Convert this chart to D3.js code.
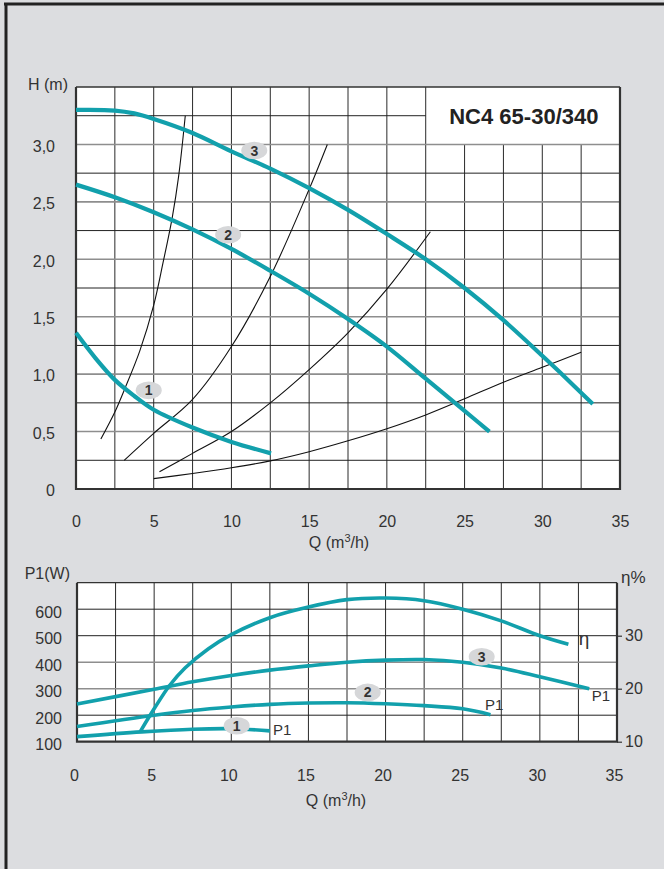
<!DOCTYPE html>
<html><head><meta charset="utf-8">
<script src="https://cdn.jsdelivr.net/npm/d3@7"></script>
<style>
body{margin:0;background:#dcdde0}
svg{display:block}
text{font-family:"Liberation Sans",Arial,sans-serif}
</style>
</head><body><svg id="c" width="664" height="869"></svg>
<script>
// ---------- data ----------
const title = "NC4 65-30/340";
const qTicks = [0,5,10,15,20,25,30,35];
const hTicks = [0,0.5,1.0,1.5,2.0,2.5,3.0];
const hTickLabels = ["0","0,5","1,0","1,5","2,0","2,5","3,0"];
const p1Ticks = [100,200,300,400,500,600];
const etaTicks = [10,20,30];

// pump curves H(Q), speeds 1..3
const q1 = [0,1.25,2.5,3.75,5,7.5,10,12.55];
const h1 = [1.36,1.14,0.95,0.81,0.69,0.535,0.41,0.31];
const q2 = [0,2.5,5,7.5,10,12.5,15,17.5,20,22.5,25,26.6];
const h2 = [2.65,2.54,2.41,2.26,2.09,1.90,1.70,1.48,1.24,0.96,0.68,0.50];
const q3 = [0,2.5,3.75,5,7.5,10,12.5,15,17.5,20,22.5,25,27.5,30,31.1,33.25];
const h3 = [3.30,3.295,3.27,3.222,3.10,2.94,2.79,2.62,2.43,2.22,2.00,1.75,1.47,1.16,1.02,0.74];

// system curves
const qSA = [1.6,2.5,3.1,4.1,5.0,5.6,6.2,6.6,7.03];
const hSA = [0.435,0.67,0.86,1.20,1.60,1.97,2.37,2.72,3.25];
const qSB = [3.1,5,7.5,10,12.5,15,16.17];
const hSB = [0.25,0.485,0.78,1.24,1.85,2.61,3.0];
const qSC = [5.37,7.5,10,12.5,15,17.5,20,22.8];
const hSC = [0.15,0.31,0.50,0.75,1.04,1.36,1.74,2.24];
const qSD = [5,7.5,10,12.5,15,17.5,20,22.5,25,27.5,30,32.5];
const hSD = [0.09,0.135,0.185,0.245,0.325,0.42,0.525,0.645,0.785,0.93,1.06,1.19];

// power P1(Q)
const qP1 = [0,4.2,7.5,10,12.5];
const pP1 = [119,137,147,149,141];
const qP2 = [0,5,7.5,10,12.5,15,17.5,20,22.5,25,26.8];
const pP2 = [157,200,218,231,241,246,247,243,236,224,202];
const qP3 = [0,5,7.5,10,12.5,15,17.5,20,22.5,25,27.5,30,33.2];
const pP3 = [242,298,326,350,370,386,400,408,410,400,378,345,300];

// efficiency eta(Q)
const qEta = [4.1,5,6,7,8.5,10,12.5,15,17.5,20,22.5,25,27.5,30,31.85];
const eta  = [11.9,16.2,20.6,23.9,27.5,30.2,33.4,35.4,36.8,37.1,36.6,35.0,32.8,30.0,28.4];

// ---------- drawing ----------
const teal = "#12a0ac";
const svg = d3.select("#c");
svg.append("rect").attr("width",664).attr("height",869).attr("fill","#dcdde0");
// scan border
svg.append("line").attr("x1",4).attr("x2",664).attr("y1",4).attr("y2",4).attr("stroke","#222").attr("stroke-width",3);
svg.append("line").attr("x1",6).attr("x2",6).attr("y1",3).attr("y2",869).attr("stroke","#222").attr("stroke-width",3);

const zip = (a,b)=>a.map((v,i)=>[v,b[i]]);
const curve = d3.curveCatmullRom.alpha(0.5);

// ===== top chart =====
const xT = d3.scaleLinear([0,35],[76,620]);
const yT = d3.scaleLinear([0,3.5],[489,87]);
const gT = svg.append("g");
gT.append("rect").attr("x",xT(0)).attr("y",yT(3.5)).attr("width",xT(35)-xT(0)).attr("height",yT(0)-yT(3.5)).attr("fill","#fff");
// grid
d3.range(2.5,35,2.5).forEach(q=>{
  gT.append("line").attr("x1",xT(q)).attr("x2",xT(q))
    .attr("y1",yT(0)).attr("y2", q>22.5+1e-6 ? yT(3.0) : yT(3.5))
    .attr("stroke","#2a2a2a").attr("stroke-width",1);
});
d3.range(0.25,3.5,0.25).forEach(h=>{
  const major = Math.abs(h*2-Math.round(h*2))<1e-6;
  gT.append("line").attr("y1",yT(h)).attr("y2",yT(h))
    .attr("x1",xT(0)).attr("x2", h>3.0+1e-6 ? xT(22.5) : xT(35))
    .attr("stroke", major? "#8e8e8e":"#222").attr("stroke-width", major?1.6:1);
});
// frame
gT.append("line").attr("x1",xT(0)).attr("x2",xT(35)).attr("y1",yT(3.5)).attr("y2",yT(3.5)).attr("stroke","#333").attr("stroke-width",1.3);
gT.append("path").attr("d",`M${xT(0)},${yT(3.5)}V${yT(0)}H${xT(35)}V${yT(3.5)}`).attr("fill","none").attr("stroke","#333").attr("stroke-width",2.2);
// title
gT.append("text").attr("x",(xT(22.5)+xT(35))/2+1).attr("y",yT(3.25)+8)
  .attr("text-anchor","middle").attr("font-size",22).attr("font-weight","bold").attr("fill","#222").text(title);

const lineT = d3.line().x(d=>xT(d[0])).y(d=>yT(d[1])).curve(curve);
[[qSA,hSA],[qSB,hSB],[qSC,hSC],[qSD,hSD]].forEach(([q,h])=>{
  gT.append("path").attr("d",lineT(zip(q,h))).attr("fill","none").attr("stroke","#111").attr("stroke-width",1.1);
});
[[q1,h1],[q2,h2],[q3,h3]].forEach(([q,h])=>{
  gT.append("path").attr("d",lineT(zip(q,h))).attr("fill","none").attr("stroke",teal).attr("stroke-width",4.2);
});

function badge(g,x,y,label){
  g.append("ellipse").attr("cx",x).attr("cy",y).attr("rx",13).attr("ry",8.8).attr("fill","#d6d7d9");
  g.append("text").attr("x",x).attr("y",y).attr("dy","0.36em").attr("text-anchor","middle")
    .attr("font-size",14).attr("font-weight","bold").attr("fill","#333").text(label);
}
badge(gT,xT(11.47),yT(2.947),"3");
badge(gT,xT(9.79),yT(2.214),"2");
badge(gT,xT(4.68),yT(0.859),"1");

// axes
const axTY = gT.append("g").attr("transform",`translate(${xT(0)},0)`)
  .call(d3.axisLeft(yT).tickValues(hTicks).tickFormat((d,i)=>hTickLabels[i]).tickSize(0).tickPadding(21));
const axTX = gT.append("g").attr("transform",`translate(0,${yT(0)})`)
  .call(d3.axisBottom(xT).tickValues(qTicks).tickFormat(d3.format("d")).tickSize(0).tickPadding(27));
[axTY,axTX].forEach(a=>{a.select(".domain").remove();a.selectAll("text").attr("font-size",16).attr("fill","#333").attr("font-family","Liberation Sans, Arial, sans-serif");});
axTY.selectAll("text").attr("dy","0.42em");
gT.append("text").attr("x",68).attr("y",90).attr("text-anchor","end").attr("font-size",16).attr("fill","#333").text("H (m)");
function qLabel(g,x,y){
  const t=g.append("text").attr("x",x).attr("y",y).attr("text-anchor","middle").attr("font-size",16).attr("fill","#333");
  t.append("tspan").text("Q (m");
  t.append("tspan").attr("font-size",11).attr("dy",-6).text("3");
  t.append("tspan").attr("dy",6).text("/h)");
}
qLabel(gT,339,548);

// ===== bottom chart =====
const xB = d3.scaleLinear([0,35],[77,617]);
const yP = d3.scaleLinear([100,700],[741.7,582.7]);
const yE = d3.scaleLinear([10,40],[741.7,582.7]);
const gB = svg.append("g");
gB.append("rect").attr("x",xB(0)).attr("y",yP(700)).attr("width",xB(35)-xB(0)).attr("height",yP(100)-yP(700)).attr("fill","#fff");
d3.range(2.5,35,2.5).forEach(q=>{
  gB.append("line").attr("x1",xB(q)).attr("x2",xB(q)).attr("y1",yP(100)).attr("y2",yP(700))
    .attr("stroke","#2a2a2a").attr("stroke-width",1);
});
d3.range(200,700,100).forEach(p=>{
  gB.append("line").attr("y1",yP(p)).attr("y2",yP(p)).attr("x1",xB(0)).attr("x2",xB(35))
    .attr("stroke", (p===300||p===400)? "#8e8e8e":"#222").attr("stroke-width",(p===300||p===400)?1.6:1);
});
gB.append("line").attr("x1",xB(0)).attr("x2",xB(35)).attr("y1",yP(700)).attr("y2",yP(700)).attr("stroke","#333").attr("stroke-width",1.3);
gB.append("path").attr("d",`M${xB(0)},${yP(700)}V${yP(100)}H${xB(35)}V${yP(700)}`).attr("fill","none").attr("stroke","#333").attr("stroke-width",2.2);

const lineP = d3.line().x(d=>xB(d[0])).y(d=>yP(d[1])).curve(curve);
const lineE = d3.line().x(d=>xB(d[0])).y(d=>yE(d[1])).curve(curve);
[[qP1,pP1],[qP2,pP2],[qP3,pP3]].forEach(([q,p])=>{
  gB.append("path").attr("d",lineP(zip(q,p))).attr("fill","none").attr("stroke",teal).attr("stroke-width",3.6);
});
gB.append("path").attr("d",lineE(zip(qEta,eta))).attr("fill","none").attr("stroke",teal).attr("stroke-width",3.6);

badge(gB,xB(10.35),yP(160.4),"1");
badge(gB,xB(18.84),yP(286),"2");
badge(gB,xB(26.23),yP(420.8),"3");

function lab(g,x,y,txt,size){
  g.append("text").attr("x",x).attr("y",y).attr("font-size",size).attr("fill","#333").text(txt);
}
lab(gB,xB(12.7),yP(125),"P1",15);
lab(gB,xB(26.44),yP(219.6),"P1",15);
lab(gB,xB(33.36),yP(253.6),"P1",15);
gB.append("text").attr("x",xB(32.86)).attr("y",yE(28.2)).attr("text-anchor","middle").attr("font-size",19).attr("fill","#333").text("η");

const axP = gB.append("g").attr("transform",`translate(${xB(0)},0)`)
  .call(d3.axisLeft(yP).tickValues(p1Ticks).tickFormat(d3.format("d")).tickSize(0).tickPadding(15));
const axE = gB.append("g").attr("transform",`translate(${xB(35)},0)`)
  .call(d3.axisRight(yE).tickValues(etaTicks).tickFormat(d3.format("d")).tickSize(5).tickPadding(3));
const axBX = gB.append("g").attr("transform",`translate(0,${yP(100)})`)
  .call(d3.axisBottom(xB).tickValues(qTicks).tickFormat(d3.format("d")).tickSize(0).tickPadding(28));
[axP,axE,axBX].forEach(a=>{a.select(".domain").remove();a.selectAll("text").attr("font-size",16).attr("fill","#333").attr("font-family","Liberation Sans, Arial, sans-serif");});
axE.selectAll("line").attr("stroke","#333").attr("stroke-width",1.2);
axP.selectAll("text").attr("dy","0.5em");
axBX.selectAll("text").attr("dx","-3");
gB.append("text").attr("x",70).attr("y",579).attr("text-anchor","end").attr("font-size",16).attr("fill","#333").text("P1(W)");
gB.append("text").attr("x",621).attr("y",583).attr("font-size",17).attr("fill","#333").text("η%");
qLabel(gB,336,806);
</script>
</body></html>
